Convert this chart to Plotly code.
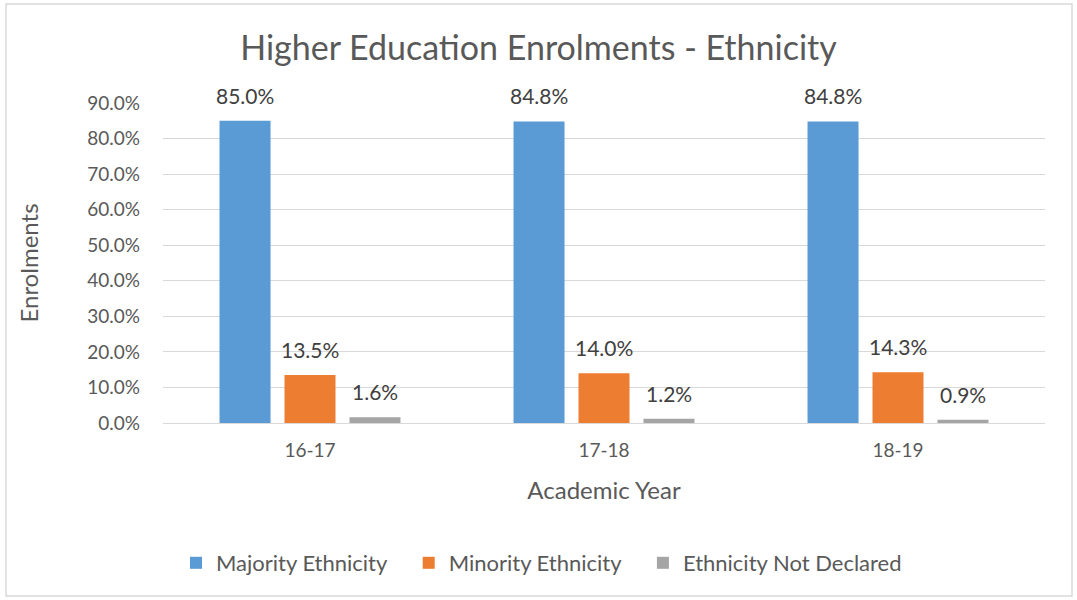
import plotly.graph_objects as go

years = ["16-17", "17-18", "18-19"]
majority = [85.0, 84.8, 84.8]
minority = [13.5, 14.0, 14.3]
not_declared = [1.6, 1.2, 0.9]
series_names = ["Majority Ethnicity", "Minority Ethnicity", "Ethnicity Not Declared"]
series_values = [majority, minority, not_declared]
colors = ["#5B9BD5", "#ED7D31", "#A5A5A5"]
y_ticks = [0, 10, 20, 30, 40, 50, 60, 70, 80, 90]

FONT = "Lato, Calibri, Carlito, sans-serif"
TXT = "#595959"
PAD = "\u00a0" * 3  # extra spacing between legend entries

fig = go.Figure()
for i, (name, vals, col) in enumerate(zip(series_names, series_values, colors)):
    label = name + (PAD if i < len(series_names) - 1 else "")
    fig.add_trace(go.Bar(x=years, y=vals, name=label, marker=dict(color=col, line=dict(width=0)),
                         hovertemplate=name + ": %{y:.1f}%<extra>%{x}</extra>"))

# data labels above bars
shifts = [-65, 0, 65]
for vals, xs in zip(series_values, shifts):
    for yr, v in zip(years, vals):
        fig.add_annotation(x=yr, y=v, xref="x", yref="y", text=f"{v:.1f}%", showarrow=False,
                           xshift=xs, yanchor="bottom", yshift=11,
                           font=dict(family=FONT, size=21, color="#404040"))

# chart border
fig.add_shape(type="rect", xref="paper", yref="paper",
              x0=(6 - 163) / 882, x1=(1072 - 163) / 882,
              y0=(423 - 596) / 320, y1=(423 - 4) / 320,
              line=dict(color="#D9D9D9", width=1.5), fillcolor="rgba(0,0,0,0)", layer="below")

fig.update_layout(
    width=1077, height=600,
    margin=dict(l=163, r=32, t=103, b=177),
    paper_bgcolor="white", plot_bgcolor="white",
    font=dict(family=FONT, color=TXT, size=19),
    barmode="group", bargap=0.337, bargroupgap=0.215,
    title=dict(text="Higher Education Enrolments - Ethnicity", x=0.5, xanchor="center",
               y=1 - 48 / 600, yanchor="middle", font=dict(size=34, color=TXT, family=FONT)),
    showlegend=True,
    legend=dict(orientation="h", x=(541.5 - 163) / 882, xanchor="center", y=-(563 - 423) / 320,
                yanchor="middle", font=dict(size=22, color=TXT), itemwidth=30,
                traceorder="normal"),
    xaxis=dict(title=dict(text="Academic Year", font=dict(size=24, color=TXT), standoff=22),
               showline=True, linecolor="#D9D9D9", linewidth=1, ticks="",
               tickfont=dict(size=19, color=TXT), ticklabelstandoff=10, showgrid=False),
    yaxis=dict(title=dict(text="Enrolments", font=dict(size=24, color=TXT), standoff=41),
               range=[0, 90], tickvals=y_ticks, ticktext=[f"{t:.1f}%" for t in y_ticks],
               showgrid=True, gridcolor="#D9D9D9", gridwidth=1, zeroline=False,
               tickfont=dict(size=19, color=TXT), ticklabelstandoff=22),
)

fig.write_html("out.html")
